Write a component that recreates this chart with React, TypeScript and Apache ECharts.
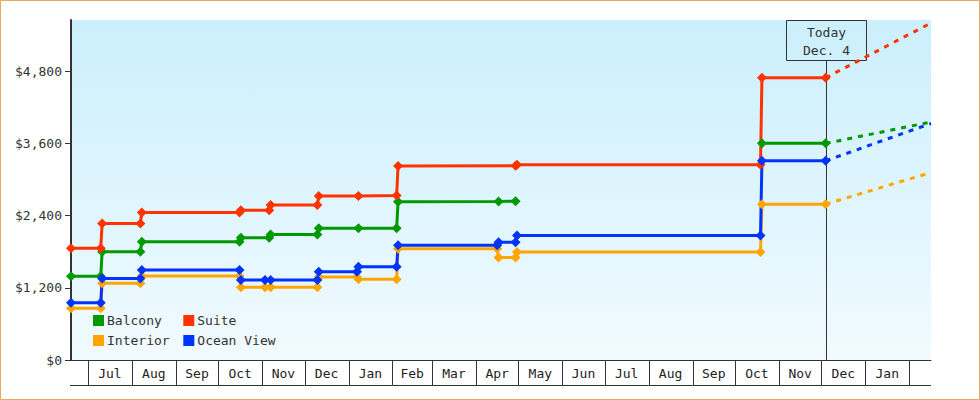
import React, { useEffect, useRef } from 'react';
import * as echarts from 'echarts';

const FONT = '"DejaVu Sans Mono", "Liberation Mono", monospace';

// ---- data ----
const seriesNames = ['Balcony', 'Suite', 'Interior', 'Ocean View'];
const seriesColors = ['#009900', '#ff3300', '#ffa500', '#0033ff'];

const balcony: [string, number | null][] = [
  ['2012-06-19', 1390], ['2012-07-10', 1390], ['2012-07-11', 1800], ['2012-08-07', 1800],
  ['2012-08-08', 1965], ['2012-10-16', 1965], ['2012-10-17', 2030], ['2012-11-06', 2030],
  ['2012-11-07', 2085], ['2012-12-10', 2085], ['2012-12-11', 2190], ['2013-01-08', 2190],
  ['2013-02-04', 2190], ['2013-02-05', 2630], ['2013-04-17', 2635], ['2013-04-29', 2640],
  ['2013-07-01', null],
  ['2013-10-20', 3600], ['2013-12-04', 3600],
];
const suite: [string, number | null][] = [
  ['2012-06-19', 1855], ['2012-07-10', 1855], ['2012-07-11', 2270], ['2012-08-07', 2270],
  ['2012-08-08', 2450], ['2012-10-16', 2450], ['2012-10-17', 2490], ['2012-11-06', 2490],
  ['2012-11-07', 2575], ['2012-12-10', 2575], ['2012-12-11', 2725], ['2013-01-08', 2725],
  ['2013-02-04', 2735], ['2013-02-05', 3225], ['2013-04-29', 3230], ['2013-04-30', 3245],
  ['2013-10-19', 3245], ['2013-10-20', 4690], ['2013-12-04', 4690],
];
const interior: [string, number | null][] = [
  ['2012-06-19', 860], ['2012-07-10', 860], ['2012-07-11', 1275], ['2012-08-07', 1275],
  ['2012-08-08', 1395], ['2012-10-16', 1395], ['2012-10-17', 1210], ['2012-11-03', 1210],
  ['2012-11-07', 1210], ['2012-12-10', 1210], ['2012-12-11', 1380], ['2013-01-07', 1380],
  ['2013-01-08', 1340], ['2013-02-04', 1340], ['2013-02-05', 1850], ['2013-04-16', 1850],
  ['2013-04-17', 1705], ['2013-04-29', 1705], ['2013-04-30', 1795], ['2013-10-19', 1795],
  ['2013-10-20', 2590], ['2013-12-04', 2590],
];
const oceanView: [string, number | null][] = [
  ['2012-06-19', 950], ['2012-07-10', 950], ['2012-07-11', 1355], ['2012-08-07', 1355],
  ['2012-08-08', 1495], ['2012-10-16', 1495], ['2012-10-17', 1330], ['2012-11-03', 1330],
  ['2012-11-07', 1330], ['2012-12-10', 1330], ['2012-12-11', 1465], ['2013-01-07', 1465],
  ['2013-01-08', 1550], ['2013-02-04', 1550], ['2013-02-05', 1905], ['2013-04-16', 1905],
  ['2013-04-17', 1955], ['2013-04-29', 1955], ['2013-04-30', 2070], ['2013-10-19', 2070],
  ['2013-10-20', 3310], ['2013-12-04', 3310],
];

// dotted projections from today to the right edge
const balconyProj: [string, number][] = [['2013-12-04', 3600], ['2014-02-16 10:00', 3955]];
const suiteProj: [string, number][] = [['2013-12-04', 4690], ['2014-02-16 10:00', 5600]];
const interiorProj: [string, number][] = [['2013-12-04', 2590], ['2014-02-16 10:00', 3115]];
const oceanViewProj: [string, number][] = [['2013-12-04', 3310], ['2014-02-16 10:00', 3930]];

const monthStarts = [
  '2012-07-01', '2012-08-01', '2012-09-01', '2012-10-01', '2012-11-01', '2012-12-01',
  '2013-01-01', '2013-02-01', '2013-03-01', '2013-04-01', '2013-05-01', '2013-06-01',
  '2013-07-01', '2013-08-01', '2013-09-01', '2013-10-01', '2013-11-01', '2013-12-01',
  '2014-01-01', '2014-02-01',
];
const monthLabels = [
  'Jul', 'Aug', 'Sep', 'Oct', 'Nov', 'Dec', 'Jan', 'Feb', 'Mar', 'Apr', 'May', 'Jun',
  'Jul', 'Aug', 'Sep', 'Oct', 'Nov', 'Dec', 'Jan',
];
const yTicks = [0, 1200, 2400, 3600, 4800];
const Y_MAX = 5650;
const axisStart = '2012-06-19';
const axisEnd = '2014-02-16 10:00';
const today = '2013-12-04';
const todayLabel = ['Today', 'Dec. 4'];

function ts(s: string): number {
  const [d, t] = s.split(' ');
  const [y, m, dd] = d.split('-').map(Number);
  let h = 0;
  let mi = 0;
  if (t) {
    const p = t.split(':').map(Number);
    h = p[0];
    mi = p[1];
  }
  return new Date(y, m - 1, dd, h, mi).getTime();
}

const toData = (arr: [string, number | null][]) =>
  arr.map(([d, v]) => [ts(d), v === null ? '-' : v]);

export default function App() {
  const ref = useRef<HTMLDivElement>(null);

  useEffect(() => {
    if (!ref.current) return;
    const chart = echarts.init(ref.current, undefined, { renderer: 'svg' });

    const mains = [balcony, suite, interior, oceanView];
    const projs = [balconyProj, suiteProj, interiorProj, oceanViewProj];

    const lineSeries: any[] = mains.map((d, i) => ({
      name: seriesNames[i],
      type: 'line',
      data: toData(d),
      symbol: 'diamond',
      symbolSize: 10,
      showSymbol: true,
      connectNulls: false,
      clip: false,
      z: 3,
      color: seriesColors[i],
      itemStyle: { color: seriesColors[i] },
      lineStyle: { color: seriesColors[i], width: 3 },
      emphasis: { disabled: true },
    }));

    const projSeries: any[] = projs.map((d, i) => ({
      name: seriesNames[i] + ' projection',
      type: 'line',
      data: toData(d),
      symbol: 'none',
      clip: true,
      z: 2,
      lineStyle: { color: seriesColors[i], width: 3, type: [5, 6] },
      emphasis: { disabled: true },
    }));

    const bounds = [ts(axisStart), ...monthStarts.map(ts), ts(axisEnd)];
    const cells: number[][] = [];
    for (let i = 0; i < bounds.length - 1; i++) {
      cells.push([bounds[i], bounds[i + 1], 0, i - 1]);
    }

    const monthSeries = {
      name: 'months',
      type: 'custom',
      coordinateSystem: 'cartesian2d',
      silent: true,
      clip: false,
      z: 1,
      encode: { x: [0, 1], y: 2 },
      data: cells,
      renderItem: (params: any, api: any) => {
        const a = api.coord([api.value(0), 0]);
        const b = api.coord([api.value(1), 0]);
        const y = a[1];
        const children: any[] = [
          {
            type: 'line',
            shape: { x1: a[0] - (params.dataIndex === 0 ? 1 : 0), y1: y + 25.5, x2: b[0], y2: y + 25.5 },
            style: { stroke: '#333', lineWidth: 1 },
          },
        ];
        if (params.dataIndex > 0) {
          const xx = Math.round(a[0]) + 0.5;
          children.push({
            type: 'line',
            shape: { x1: xx, y1: y, x2: xx, y2: y + 25 },
            style: { stroke: '#333', lineWidth: 1 },
          });
        }
        const label = monthLabels[api.value(3)];
        if (label) {
          children.push({
            type: 'text',
            style: {
              text: label,
              x: (a[0] + b[0]) / 2,
              y: y + 13.5,
              textAlign: 'center',
              textVerticalAlign: 'middle',
              font: `13px ${FONT}`,
              fill: '#222',
            },
          });
        }
        return { type: 'group', children };
      },
    };

    const todaySeries = {
      name: 'today',
      type: 'custom',
      coordinateSystem: 'cartesian2d',
      silent: true,
      clip: false,
      z: 1,
      encode: { x: 0, y: 1 },
      data: [[ts(today), Y_MAX]],
      renderItem: (_params: any, api: any) => {
        const top = api.coord([api.value(0), Y_MAX]);
        const bot = api.coord([api.value(0), 0]);
        const cx = Math.round(top[0]) + 0.5;
        const ty = Math.round(top[1]) + 0.5;
        return {
          type: 'group',
          children: [
            {
              type: 'rect',
              shape: { x: cx - 40, y: ty, width: 80, height: 40 },
              style: { fill: 'rgba(0,0,0,0)', stroke: '#333', lineWidth: 1 },
            },
            {
              type: 'line',
              shape: { x1: cx, y1: ty + 40, x2: cx, y2: bot[1] },
              style: { stroke: '#333', lineWidth: 1 },
            },
            {
              type: 'text',
              style: {
                text: todayLabel[0], x: cx, y: ty + 12, textAlign: 'center', textVerticalAlign: 'middle',
                font: `13px ${FONT}`, fill: '#333',
              },
            },
            {
              type: 'text',
              style: {
                text: todayLabel[1], x: cx, y: ty + 30, textAlign: 'center', textVerticalAlign: 'middle',
                font: `13px ${FONT}`, fill: '#333',
              },
            },
          ],
        };
      },
    };

    const legendCommon = {
      left: 93,
      padding: 0,
      icon: 'rect',
      itemWidth: 11,
      itemHeight: 11,
      selectedMode: false,
      textStyle: { fontFamily: FONT, fontSize: 13, color: '#333', padding: [0, 0, 0, -2] },
    };

    const option: any = {
      animation: false,
      backgroundColor: '#ffffff',
      grid: {
        left: 71,
        right: 49,
        top: 20,
        bottom: 40,
        show: true,
        borderWidth: 0,
        backgroundColor: new echarts.graphic.LinearGradient(0, 0, 0, 1, [
          { offset: 0, color: '#cbeffc' },
          { offset: 1, color: '#f1faff' },
        ]),
      },
      legend: [
        { ...legendCommon, top: 314, itemGap: 21.5, data: [seriesNames[0], seriesNames[1]] },
        { ...legendCommon, top: 334, itemGap: 13.7, data: [seriesNames[2], seriesNames[3]] },
      ],
      xAxis: {
        type: 'time',
        min: ts(axisStart),
        max: ts(axisEnd),
        axisLine: { show: true, onZero: false, lineStyle: { color: '#333', width: 1 } },
        axisTick: { show: false },
        axisLabel: { show: false },
        splitLine: { show: false },
      },
      yAxis: {
        type: 'value',
        min: 0,
        max: Y_MAX,
        axisLine: { show: true, lineStyle: { color: '#333', width: 2 } },
        axisTick: { show: true, length: 6, customValues: yTicks, lineStyle: { color: '#333', width: 1 } },
        axisLabel: {
          customValues: yTicks,
          margin: 9,
          color: '#333',
          fontFamily: FONT,
          fontSize: 13,
          formatter: (v: number) => '$' + v.toLocaleString('en-US'),
        },
        splitLine: { show: false },
      },
      graphic: [
        {
          type: 'rect',
          x: 0.5,
          y: 0.5,
          shape: { width: 979, height: 399 },
          style: { fill: 'none', stroke: '#e8a862', lineWidth: 1 },
          silent: true,
        },
      ],
      series: [monthSeries, todaySeries, ...projSeries, ...lineSeries],
    };

    chart.setOption(option);
    return () => chart.dispose();
  }, []);

  return (
    <div
      ref={ref}
      style={{ position: 'fixed', left: 0, top: 0, width: 980, height: 400 }}
    />
  );
}
